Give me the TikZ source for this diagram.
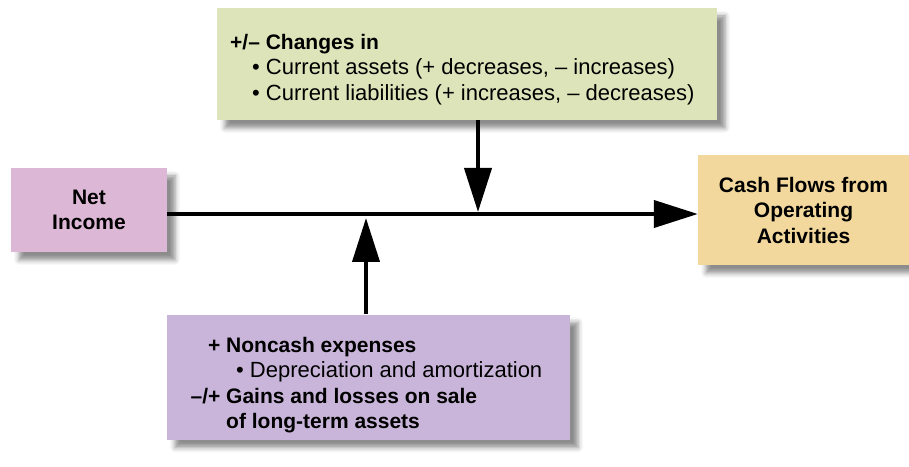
\documentclass[tikz,border=0pt]{standalone}
\usepackage{fontspec}
\setmainfont{Liberation Sans}
\usetikzlibrary{positioning}
\usetikzlibrary{arrows.meta}
\usetikzlibrary{shadows.blur}
\usepackage{xcolor}
\definecolor{chggreen} {RGB} {222,228,186}
\definecolor{nipink} {RGB} {221,184,214}
\definecolor{cfoyellow} {RGB} {242,216,157}
\definecolor{adjlilac} {RGB} {201,181,217}
\newcommand{\hd}[1]{{\fontsize{21}{25.5}\selectfont\bfseries #1}}
\tikzstyle{box} = [rectangle,inner sep=0pt,align=center,font=\bfseries\fontsize{21}{25.5}\selectfont,blur shadow={shadow xshift=8pt,shadow yshift=-8pt,shadow blur radius=5pt,shadow opacity=45}]
\tikzstyle{txt} = [inner sep=0pt,align=left,anchor=north west,font=\fontsize{22}{25.5}\selectfont]
\tikzset{flow/.style={-{Triangle[length=44pt,width=27pt]},line width=4pt}}

\begin{document}
\begin{tikzpicture}[x=1pt,y=1pt]
  \useasboundingbox (0,0) rectangle (909,466);

  \node [box,fill=chggreen,minimum width=500pt,minimum height=112pt] (chg) at (467,402) {};
  \node [box,fill=nipink,minimum width=156pt,minimum height=84pt] (ni) at (89,256) {Net\\Income};
  \node [box,fill=cfoyellow,minimum width=211pt,minimum height=110pt] (cfo) at (803.5,256) {Cash Flows from\\Operating\\Activities};
  \node [box,fill=adjlilac,minimum width=403pt,minimum height=125pt] (adj) at (368.5,89) {};

  \node [txt] (chgtxt) at (230,432) {\hd{+/– Changes in}\\
    \hspace*{22pt}• Current assets (+ decreases, – increases)\\
    \hspace*{22pt}• Current liabilities (+ increases, – decreases)};
  \node [txt] (adjtxt) at (226,129) {\hd{\llap{+ }Noncash expenses}\\
    \hspace*{10pt}• Depreciation and amortization\\
    \hd{\llap{–/+ }Gains and losses on sale}\\
    \hd{of long-term assets}};

  \coordinate (ml) at (0,252);
  \coordinate (dn) at (478,254);
  \coordinate (up) at (366,248);

  \draw [flow] (ni.east |- ml) -- (cfo.west |- ml);
  \draw [flow] (chg.south -| dn) -- (dn);
  \draw [flow] (adj.north -| up) -- (up);
\end{tikzpicture}
\end{document}
